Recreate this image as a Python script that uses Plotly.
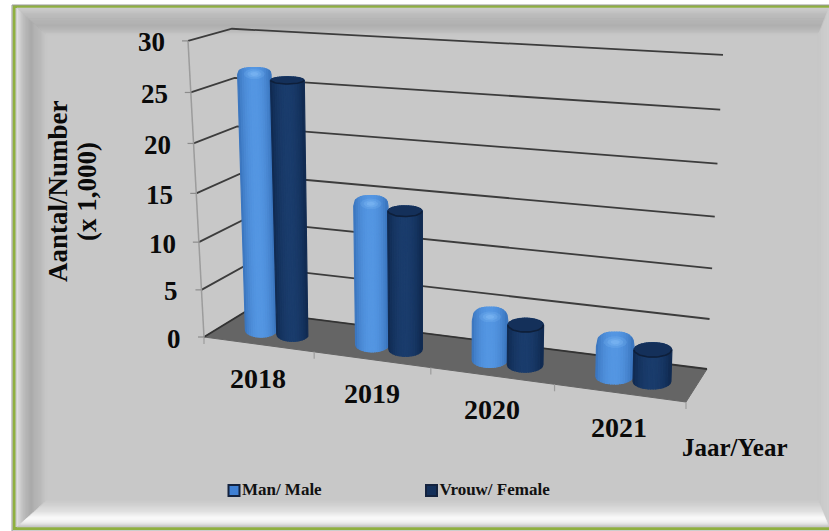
import math
import plotly.graph_objects as go

# ---- data ----
years = ["2018", "2019", "2020", "2021"]
man_male = [26.7, 14.8, 4.7, 3.7]
vrouw_female = [26.0, 14.1, 4.0, 3.1]
y_ticks = [0, 5, 10, 15, 20, 25, 30]
y_title = ["Aantal/Number", "(x 1,000)"]
x_title = "Jaar/Year"
legend_names = ["Man/ Male", "Vrouw/ Female"]

W, H = 829, 531
FONT = "Liberation Serif"
VMAX = 30

# ---- oblique projection of the chart box (category u, depth w, value v) ----
FL, FR, BR, BL = (204, 337), (686, 402), (707, 369), (247, 310.75)
UP_FL, UP_FR, UP_BR, UP_BL = (-0.533, -9.87), (0.6, -10.9), (0.533, -10.47), (-0.5, -9.4)

dx1, dy1 = FR[0] - BR[0], FR[1] - BR[1]
dx2, dy2 = BL[0] - BR[0], BL[1] - BR[1]
sx, sy = FL[0] - FR[0] + BR[0] - BL[0], FL[1] - FR[1] + BR[1] - BL[1]
det = dx1 * dy2 - dx2 * dy1
g = (sx * dy2 - dx2 * sy) / det
h = (dx1 * sy - sx * dy1) / det


def project(u, w, v=0.0):
    d = 1 + g * u + h * w
    x = ((FR[0] - FL[0] + g * FR[0]) * u + (BL[0] - FL[0] + h * BL[0]) * w + FL[0]) / d
    y = ((FR[1] - FL[1] + g * FR[1]) * u + (BL[1] - FL[1] + h * BL[1]) * w + FL[1]) / d
    ux = (1 - u) * (1 - w) * UP_FL[0] + u * (1 - w) * UP_FR[0] + u * w * UP_BR[0] + (1 - u) * w * UP_BL[0]
    uy = (1 - u) * (1 - w) * UP_FL[1] + u * (1 - w) * UP_FR[1] + u * w * UP_BR[1] + (1 - u) * w * UP_BL[1]
    ve = v - 0.45 * math.sin(math.pi * v / VMAX)   # foreshortening of the value axis
    return x + ux * ve, y + uy * ve


def mix(c0, c1, t):
    return "rgb(%d,%d,%d)" % tuple(round(a + (b - a) * t) for a, b in zip(c0, c1))


def bold(size, color="#0a0a0a"):
    return dict(family=FONT, size=size, color=color, weight=700)


fig = go.Figure()

# ---- frame and bevelled plate ----
OUT = (17, 8, 829, 527)
INN = (47, 35, 818, 500)
SIDE_STOPS = {
    "left": [(0, 226), (0.2, 192), (0.45, 170), (0.8, 186), (1, 200)],
    "top": [(0, 205), (0.3, 186), (0.65, 174), (0.85, 186), (1, 200)],
    "right": [(0, 208), (1, 200)],
    "bottom": [(0, 190), (0.18, 238), (0.32, 255), (0.6, 225), (1, 200)],
}


def stop_value(stops, t):
    for (t0, a), (t1, b) in zip(stops, stops[1:]):
        if t <= t1:
            return a + (b - a) * (t - t0) / (t1 - t0)
    return stops[-1][1]


def rect_at(t):
    return [a + (b - a) * t for a, b in zip(OUT, INN)]


shapes = [
    dict(type="rect", x0=14, y0=6.5, x1=835, y1=528.5, layer="below",
         line=dict(color="#8fb040", width=3), fillcolor="#c8c8c8"),
    dict(type="rect", x0=12, y0=5, x1=835, y1=531, layer="below",
         line=dict(color="#9a9a9a", width=1), fillcolor="rgba(0,0,0,0)"),
]
BANDS = 26
for i in range(BANDS):
    t0, t1 = i / BANDS, (i + 1) / BANDS
    a, b = rect_at(t0), rect_at(t1)
    polys = {
        "left": [(a[0], a[1]), (b[0], b[1]), (b[0], b[3]), (a[0], a[3])],
        "top": [(a[0], a[1]), (a[2], a[1]), (b[2], b[1]), (b[0], b[1])],
        "right": [(a[2], a[1]), (a[2], a[3]), (b[2], b[3]), (b[2], b[1])],
        "bottom": [(a[0], a[3]), (a[2], a[3]), (b[2], b[3]), (b[0], b[3])],
    }
    for side, pts in polys.items():
        v = round(stop_value(SIDE_STOPS[side], (t0 + t1) / 2))
        col = f"rgb({v},{v},{v})"
        path = "M" + " L".join(f"{x:.1f},{y:.1f}" for x, y in pts) + " Z"
        shapes.append(dict(type="path", path=path, layer="below", fillcolor=col,
                           line=dict(color=col, width=0.6)))


def add_line(pts, color, width):
    fig.add_trace(go.Scatter(x=[p[0] for p in pts], y=[p[1] for p in pts], mode="lines",
                             line=dict(color=color, width=width), hoverinfo="skip", showlegend=False))


# ---- floor ----
floor = [project(0, 0), project(1, 0), project(1, 1), project(0, 1), project(0, 0)]
fig.add_trace(go.Scatter(x=[p[0] for p in floor], y=[p[1] for p in floor], mode="lines", fill="toself",
                         fillcolor="#656565", line=dict(color="#656565", width=1),
                         hoverinfo="skip", showlegend=False))

# ---- gridlines, axis, ticks ----
for tv in y_ticks:
    pts = [project(0, 0, tv), project(0, 1, tv), project(1, 1, tv)]
    add_line(pts, "#3c3c3c" if tv else "#333333", 1.8)
add_line([project(0, 0, 0), project(0, 0, VMAX)], "#9c9c9c", 1.5)
annotations = []
for tv in y_ticks:
    ax, ay = project(0, 0, tv)
    add_line([(ax - 6, ay), (ax, ay)], "#8c8c8c", 1.2)
    annotations.append(dict(x=ax - 21, y=ay + 1.5, text=str(tv), xanchor="right", yanchor="middle",
                            showarrow=False, font=bold(27)))
for k in range(len(years) + 1):
    tx, ty = project(k / len(years), 0)
    add_line([(tx, ty), (tx, ty + 7)], "#9c9c9c", 1.2)
for k, yr in enumerate(years):
    lx, ly = project((k + 0.5) / len(years), 0)
    annotations.append(dict(x=lx, y=ly + 34, text=yr, xanchor="center", yanchor="middle", showarrow=False,
                            font=bold(28)))

# ---- cylinders ----
DU, DEPTH, N, LEAN, DRIFT = 0.0365, 0.44, 15, 0.6, 0.0018
EDGE_M, CENTER_M = (56, 114, 186), (84, 150, 226)
EDGE_F, CENTER_F = (15, 40, 78), (26, 60, 108)


def slot(k, count, offset):
    return (k + 0.5) / count + offset + DRIFT * k


def ell(py):
    return 3.5 + (py - 70) * 0.0135


def axis_xy(uc, v):
    fx, fy = project(uc, DEPTH, 0)
    tx, ty = project(uc, DEPTH, v)
    return fx + (tx - fx) * LEAN, ty


def half_width(uc, v):
    return (project(uc + DU, DEPTH, v)[0] - project(uc - DU, DEPTH, v)[0]) / 2


def cyl_point(uc, v, s, dome):
    cx, cy = axis_xy(uc, v)
    x = cx + half_width(uc, v) * s
    f = math.sqrt(max(0.0, 1 - s * s))
    e = ell(cy)
    if v == 0:
        return x, cy + e * f
    if dome:
        sup = max(0.0, 1 - abs(s) ** 2.6) ** (1 / 2.6)
        return x, cy + e - 2 * e * sup
    return x, cy - e * f


def band_polys(values, offset, dome):
    traces = [([], []) for _ in range(N)]
    for k, val in enumerate(values):
        uc = slot(k, len(values), offset)
        for i in range(N):
            s0, s1 = -1 + 2 * i / N, -1 + 2 * (i + 1) / N
            ss = [s0 + (s1 - s0) * j / 3 for j in range(4)]
            top = [cyl_point(uc, val, s, dome) for s in ss]
            bot = [cyl_point(uc, 0, s, dome) for s in reversed(ss)]
            pts = top + bot + [top[0]]
            traces[i][0].extend([p[0] for p in pts] + [None])
            traces[i][1].extend([p[1] for p in pts] + [None])
    return traces


def ellipse(cx, cy, rx, ry, start=0.0, stop=2 * math.pi, n=30):
    return [(cx + rx * math.cos(start + (stop - start) * i / n),
             cy + ry * math.sin(start + (stop - start) * i / n)) for i in range(n + 1)]


def add_cylinders(values, offset, edge, center, dome):
    for i, (xs, ys) in enumerate(band_polys(values, offset, dome)):
        sm = -1 + 2 * (i + 0.5) / N
        col = mix(edge, center, 1 - abs(sm) ** 2.2)
        fig.add_trace(go.Scatter(x=xs, y=ys, mode="lines", fill="toself", fillcolor=col,
                                 line=dict(color=col, width=1.2), hoverinfo="skip", showlegend=False))


add_cylinders(man_male, -DU, EDGE_M, CENTER_M, True)
for k, val in enumerate(man_male):
    uc = slot(k, len(man_male), -DU)
    cx, cy = axis_xy(uc, val)
    rx = half_width(uc, val)
    for scale, alpha in ((0.62, 0.16), (0.42, 0.2), (0.24, 0.25)):
        pts = ellipse(cx, cy + 3, rx * scale, rx * scale * 0.5)
        fig.add_trace(go.Scatter(x=[p[0] for p in pts], y=[p[1] for p in pts], mode="lines", fill="toself",
                                 fillcolor=f"rgba(150,205,255,{alpha})", line=dict(width=0),
                                 hoverinfo="skip", showlegend=False))

add_cylinders(vrouw_female, DU, EDGE_F, CENTER_F, False)
for k, val in enumerate(vrouw_female):
    uc = slot(k, len(vrouw_female), DU)
    cx, cy = axis_xy(uc, val)
    rx = half_width(uc, val)
    e = ell(cy)
    pts = ellipse(cx, cy, rx, e)
    fig.add_trace(go.Scatter(x=[p[0] for p in pts], y=[p[1] for p in pts], mode="lines", fill="toself",
                             fillcolor="#14305a", line=dict(color="#14305a", width=0.6),
                             hoverinfo="skip", showlegend=False))
    rim = ellipse(cx, cy, rx * 0.98, e, 0, math.pi)
    add_line(rim, "#0e1f3a", 1.6)

# ---- titles ----
annotations += [
    dict(x=58, y=191, text=y_title[0], textangle=-90, xanchor="center", yanchor="middle", showarrow=False,
         font=bold(27)),
    dict(x=87, y=192, text=y_title[1], textangle=-90, xanchor="center", yanchor="middle", showarrow=False,
         font=bold(27)),
    dict(x=735, y=447, text=x_title, xanchor="center", yanchor="middle", showarrow=False,
         font=bold(25)),
]

# ---- legend (marker with its label right beside it) ----
LEGEND_X = [234, 431.5]
LEGEND_Y = 490.5
LEGEND_FILL = ["#3f80d4", "#14305a"]
for name, lx, fill in zip(legend_names, LEGEND_X, LEGEND_FILL):
    fig.add_trace(go.Scatter(x=[lx], y=[LEGEND_Y], mode="markers+text", name=name, text=[name],
                             textposition="middle right", textfont=bold(17, "#111111"),
                             marker=dict(symbol="square", size=11, color=fill,
                                         line=dict(color="#14233f", width=2)),
                             hoverinfo="skip", showlegend=False))

fig.update_layout(
    width=W, height=H, margin=dict(l=0, r=0, t=0, b=0), autosize=False,
    paper_bgcolor="#ffffff", plot_bgcolor="rgba(0,0,0,0)",
    xaxis=dict(range=[0, W], visible=False, fixedrange=True),
    yaxis=dict(range=[H, 0], visible=False, fixedrange=True),
    shapes=shapes, annotations=annotations, showlegend=False,
)

fig.write_html("out.html", config={"displayModeBar": False},
               post_script="document.body.style.margin='0';document.documentElement.style.overflow='hidden';")
